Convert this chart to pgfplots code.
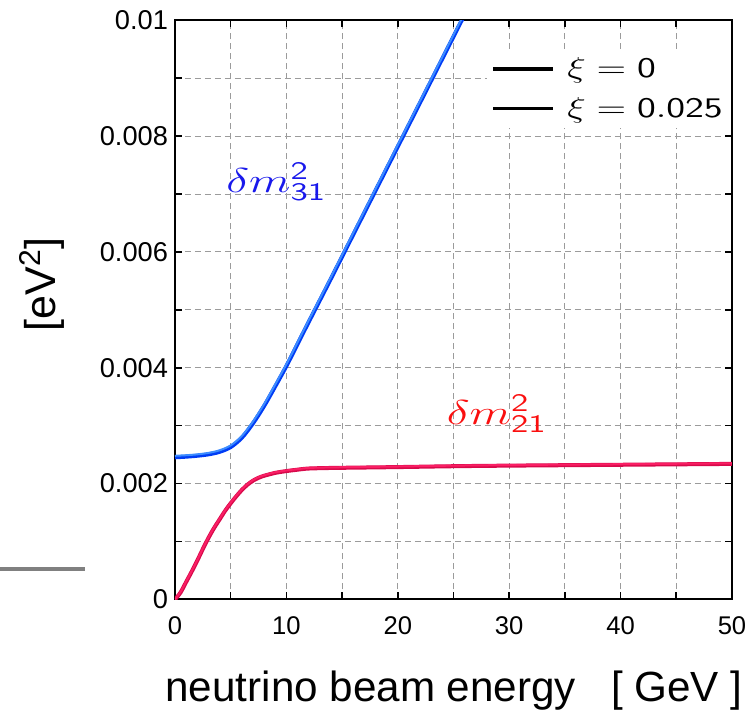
\documentclass[border=0pt]{standalone}
\usepackage{pgfplots}
\pgfplotsset{compat=1.18}
\usepackage{fontspec}
\setmainfont{Liberation Sans}
\usepackage{graphicx}

\definecolor{bluemain}{RGB}{0,60,245}
\definecolor{bluelight}{RGB}{60,140,255}
\definecolor{redmain}{RGB}{215,10,75}
\definecolor{redlight}{RGB}{250,30,100}
\definecolor{labblue}{RGB}{25,25,235}
\definecolor{labred}{RGB}{250,15,15}
\definecolor{gridgray}{RGB}{155,155,155}

\pgfplotstableread{
x y
0 0.002454
1 0.002465
2 0.002481
3 0.002505
4 0.002548
5 0.002631
6 0.002792
7 0.003040
8 0.003340
9 0.003680
10 0.004030
11 0.004410
12 0.004790
14 0.005540
16 0.006300
18 0.007060
20 0.007820
22 0.008580
24 0.009340
26 0.010100
}\bluezero

\pgfplotstableread{
x y
0 0.002480
1 0.002490
2 0.002505
3 0.002530
4 0.002575
5 0.002660
6 0.002822
7 0.003072
8 0.003372
9 0.003712
10 0.004062
11 0.004440
12 0.004820
14 0.005570
16 0.006330
18 0.007090
20 0.007850
22 0.008610
24 0.009370
26 0.010130
}\bluexi

\pgfplotstableread{
x y
0 0.0
0.5 0.00012
1 0.00030
1.5 0.00048
2 0.00067
2.5 0.00087
3 0.00106
3.5 0.00123
4 0.00138
4.5 0.00153
5 0.00166
5.5 0.00178
6 0.00189
6.5 0.00198
7 0.00205
7.5 0.00210
8 0.002135
9 0.002185
10 0.002216
11 0.00224
12 0.00226
14 0.00227
16 0.002275
20 0.002285
25 0.00230
30 0.00231
40 0.002325
50 0.00234
}\redzero

\pgfplotstableread{
x y
0 0.0
0.5 0.00013
1 0.00031
1.5 0.00049
2 0.00068
2.5 0.00088
3 0.00107
3.5 0.00124
4 0.00139
4.5 0.00154
5 0.00167
5.5 0.00179
6 0.00190
6.5 0.00199
7 0.00206
7.5 0.00211
8 0.002145
9 0.002195
10 0.002226
11 0.00225
12 0.00227
14 0.00228
16 0.002285
20 0.002295
25 0.00231
30 0.00232
40 0.002335
50 0.00235
}\redxi

\begin{document}
\begin{tikzpicture}
\begin{axis}[
  scale only axis,
  width=278.5pt, height=289.5pt,
  xmin=0, xmax=50, ymin=0, ymax=0.01,
  axis line style={line width=1pt},
  tick align=inside,
  tick style={black, line width=0.8pt},
  major tick length=3.5pt, minor tick length=3.5pt,
  xtick={0,10,20,30,40,50},
  minor xtick={5,15,25,35,45},
  xticklabels={0,10,20,30,40,50},
  ytick={0,0.002,0.004,0.006,0.008,0.01},
  minor ytick={0.001,0.003,0.005,0.007,0.009},
  yticklabels={0,0.002,0.004,0.006,0.008,0.01},
  scaled y ticks=false, scaled x ticks=false,
  xticklabel style={font=\fontsize{12.8}{14}\selectfont, yshift=-5pt},
  yticklabel style={font=\fontsize{13.6}{15}\selectfont},
  grid=both,
  major grid style={gridgray, dash pattern=on 3pt off 2pt, line width=0.5pt},
  minor grid style={gridgray, dash pattern=on 3pt off 2pt, line width=0.5pt},
  ylabel={[eV\textsuperscript{2}]},
  ylabel style={font=\fontsize{21.5}{24}\selectfont, at={(axis description cs:-0.239,0.544)}, anchor=center},
  legend image code/.code={\draw[#1] (0pt,0pt) -- (30pt,0pt);},
  legend cell align=left,
  legend style={draw=none, fill=white, at={(axis cs:28.0,0.00951)}, anchor=north west,
    font=\fontsize{14.2}{16}\selectfont, row sep=4.5pt, inner sep=2pt},
]
\addlegendimage{black, line width=2pt}
\addlegendentry{\hspace{4pt}\scalebox{1.35}[1]{$\xi = \mathsf{0}$}}
\addlegendimage{black, line width=1.2pt}
\addlegendentry{\hspace{4pt}\scalebox{1.35}[1]{$\xi = \mathsf{0.025}$}}

\addplot[forget plot, bluemain, line width=2pt, smooth] table {\bluezero};
\addplot[forget plot, bluelight, line width=1pt, smooth] table {\bluexi};
\addplot[forget plot, redmain, line width=2pt, smooth] table {\redzero};
\addplot[forget plot, redlight, line width=1pt, smooth] table {\redxi};

\node[labblue, font=\fontsize{18}{20}\selectfont] at (axis cs:9.1,0.00721)
  {\scalebox{1.4}[1]{$\delta m^{\mathsf{2}}_{\mathsf{31}}$}};
\node[labred, font=\fontsize{18}{20}\selectfont] at (axis cs:28.9,0.00321)
  {\scalebox{1.4}[1]{$\delta m^{\mathsf{2}}_{\mathsf{21}}$}};
\end{axis}
\node[font=\fontsize{21.1}{24}\selectfont, anchor=center, inner sep=0pt] at (139.5pt,-45.5pt)
  {neutrino beam energy \ \ [ GeV ]};
\draw[gray, line width=2pt] (-87.5pt,15.2pt) -- (-45pt,15.2pt);
\pgfresetboundingbox
\path (-87.5pt,-55.3pt) rectangle (285.5pt,299.7pt);
\end{tikzpicture}
\end{document}
